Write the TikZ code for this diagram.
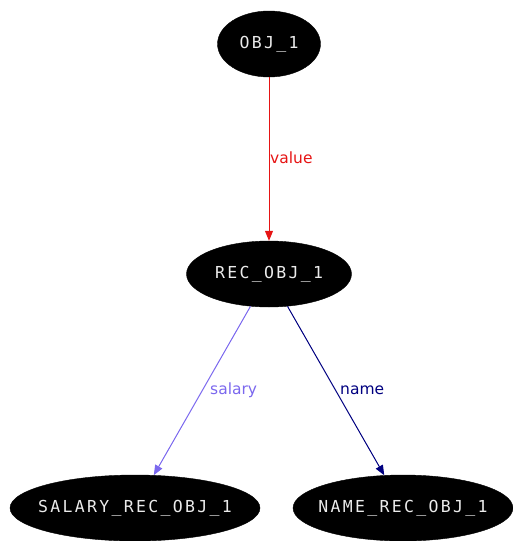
\documentclass[tikz,border=0pt]{standalone}
\usepackage{fontspec}
\usetikzlibrary{shapes.geometric,arrows.meta}
\newfontfamily\nodefont[LetterSpace=14]{DejaVu Sans Mono}
\newfontfamily\labelfont{DejaVu Sans}
\definecolor{valuered}{RGB}{230,20,20}
\definecolor{salaryblue}{RGB}{123,104,238}
\definecolor{namenavy}{RGB}{0,0,128}
\newcommand{\ovaltext}[1]{\makebox[0pt][c]{#1}}
\tikzset{
  objnode/.style={ellipse, fill=black, draw=black, text=white!92!black, inner sep=0pt,
    minimum height=66pt, font=\nodefont\fontsize{16.5}{20}\selectfont},
  link/.style={line width=1pt, -{Triangle[length=10pt,width=8pt]}},
  linklabel/.style={anchor=west, inner sep=0pt, font=\labelfont\fontsize{15.5}{18}\selectfont}
}
\begin{document}
\begin{tikzpicture}[x=1pt,y=-1pt]
\useasboundingbox (0,0) rectangle (512,541);
\node[objnode, minimum width=103pt] (obj) at (269,44) {\ovaltext{OBJ\_1}};
\node[objnode, minimum width=165pt] (rec) at (269,274) {\ovaltext{REC\_OBJ\_1}};
\node[objnode, minimum width=250pt] (sal) at (135,508) {\ovaltext{SALARY\_REC\_OBJ\_1}};
\node[objnode, minimum width=220pt] (nam) at (403,508) {\ovaltext{NAME\_REC\_OBJ\_1}};
\draw[link, valuered] (obj) -- (rec);
\draw[link, salaryblue] (rec) -- (sal);
\draw[link, namenavy] (rec) -- (nam);
\node[linklabel, text=valuered] (lv) at (270,158) {value};
\node[linklabel, text=salaryblue] (ls) at (210,390) {salary};
\node[linklabel, text=namenavy] (ln) at (340,390) {name};
\end{tikzpicture}
\end{document}
